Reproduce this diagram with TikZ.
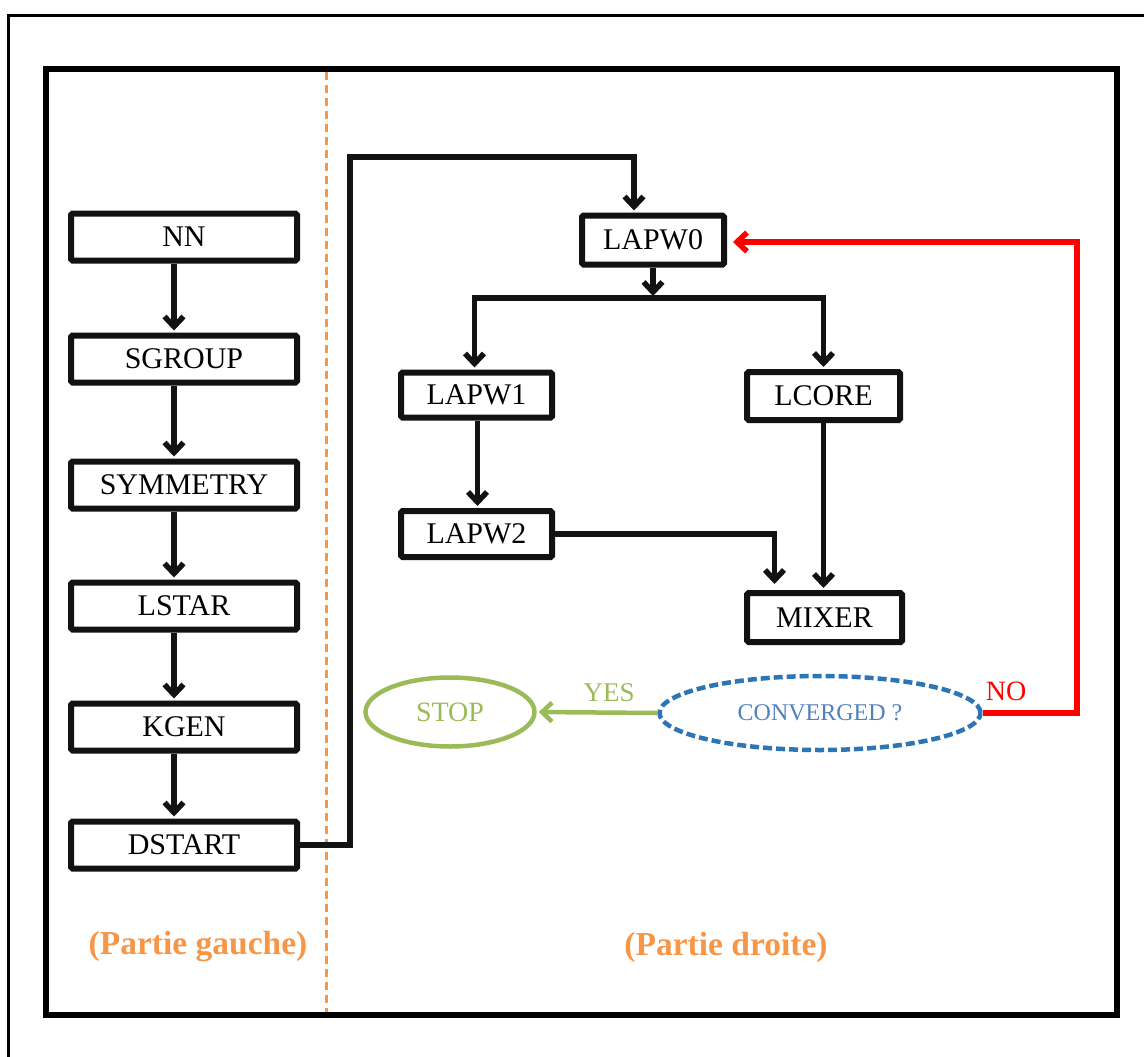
\documentclass[tikz,border=0pt]{standalone}
\usepackage{fontspec}
\setmainfont{Liberation Serif}
\usetikzlibrary{arrows.meta,shapes.geometric,calc}
\definecolor{myorange}{HTML}{F79646}
\definecolor{stopgreen}{HTML}{9BBB59}
\definecolor{convblue}{HTML}{2E75B6}
\definecolor{textblue}{HTML}{4F81BD}
\definecolor{nored}{HTML}{FF0000}
\begin{document}
\begin{tikzpicture}[x=1pt,y=-1pt,
  box/.style={draw=black!93,line width=6pt,rounded corners=1.5pt,inner sep=0pt,
    font=\fontsize{30}{32}\selectfont},
  leftbox/.style={box,minimum width=226pt,minimum height=47pt},
  conn/.style={draw=black!93,line width=5.5pt,-{Straight Barb[length=10pt,width=19pt]},shorten >=2pt},
  partlabel/.style={myorange,font=\fontsize{33.5}{36}\selectfont\bfseries}
]
\useasboundingbox (0,0) rectangle (1144,1057);
% frames
\draw[line width=3pt] (8.5,1057) -- (8.5,16) -- (1144,16);
\draw[line width=6pt] (45.5,69) rectangle (1117,1015);
\draw[myorange,line width=3pt,dash pattern=on 8pt off 5pt] (326,72) -- (326,1012);

% left column
\node[leftbox] (nn) at (184,237) {NN};
\node[leftbox] (sgroup) at (184,359) {SGROUP};
\node[leftbox] (symmetry) at (184,485) {SYMMETRY};
\node[leftbox] (lstar) at (184,606) {LSTAR};
\node[leftbox] (kgen) at (184,727) {KGEN};
\node[leftbox] (dstart) at (184,845) {DSTART};

\draw[conn] ([xshift=-10pt]nn.south) -- ([xshift=-10pt]sgroup.north);
\draw[conn] ([xshift=-10pt]sgroup.south) -- ([xshift=-10pt]symmetry.north);
\draw[conn] ([xshift=-10pt]symmetry.south) -- ([xshift=-10pt]lstar.north);
\draw[conn] ([xshift=-10pt]lstar.south) -- ([xshift=-10pt]kgen.north);
\draw[conn] ([xshift=-10pt]kgen.south) -- ([xshift=-10pt]dstart.north);

% right part
\node[box,minimum width=142pt,minimum height=49pt] (lapw0) at (653,240) {LAPW0};
\node[box,minimum width=151pt,minimum height=45pt] (lapw1) at (476.5,395) {LAPW1};
\node[box,minimum width=153pt,minimum height=48pt] (lcore) at (823.5,396) {LCORE};
\node[box,minimum width=151pt,minimum height=46pt] (lapw2) at (476.5,534) {LAPW2};
\node[box,minimum width=155pt,minimum height=49pt] (mixer) at (824.5,617.5) {MIXER};

\coordinate (top) at (350,157);
\draw[conn] (dstart.east) -| (top) -| ([xshift=-19pt]lapw0.north);

\coordinate (split) at (653,298);
\draw[conn] (lapw0.south) -- (split);
\draw[conn] (split) -| ([xshift=-2pt]lapw1.north);
\draw[conn] (split) -| (lcore.north);
\draw[conn] ([xshift=1pt]lapw1.south) -- ([xshift=1pt]lapw2.north);
\draw[conn,shorten >=6pt] (lapw2.east) -| ([xshift=-50pt]mixer.north);
\draw[conn] (lcore.south) -- (lcore.south |- mixer.north);

% decision
\node[ellipse,draw=convblue,line width=4.5pt,dash pattern=on 9pt off 4pt,
  minimum width=321pt,minimum height=74pt,inner sep=0pt,text=textblue,
  font=\fontsize{24}{26}\selectfont] (conv) at (820,713) {CONVERGED ?};
\node[ellipse,draw=stopgreen,line width=4.5pt,minimum width=169pt,minimum height=69pt,
  inner sep=0pt,text=stopgreen,font=\fontsize{28}{30}\selectfont] (stop) at (450,712) {STOP};

\draw[conn,draw=stopgreen,line width=4.5pt] (conv.west) -- (stop.east)
  node[pos=0.4,above=5pt,text=stopgreen,font=\fontsize{27}{29}\selectfont] {YES};

\coordinate (nocorner) at (1077,242);
\draw[conn,draw=nored,line width=5.5pt,shorten >=6pt] (conv.east) -| (nocorner) -- (nocorner -| lapw0.east);
\node[nored,anchor=south west,inner sep=1pt,font=\fontsize{28}{30}\selectfont]
  at ([xshift=2pt,yshift=11pt]conv.east) {NO};

% labels
\node[partlabel] (pg) at (198,947) {(Partie gauche)};
\node[partlabel] (pd) at (726,947) {(Partie droite)};
\end{tikzpicture}
\end{document}
